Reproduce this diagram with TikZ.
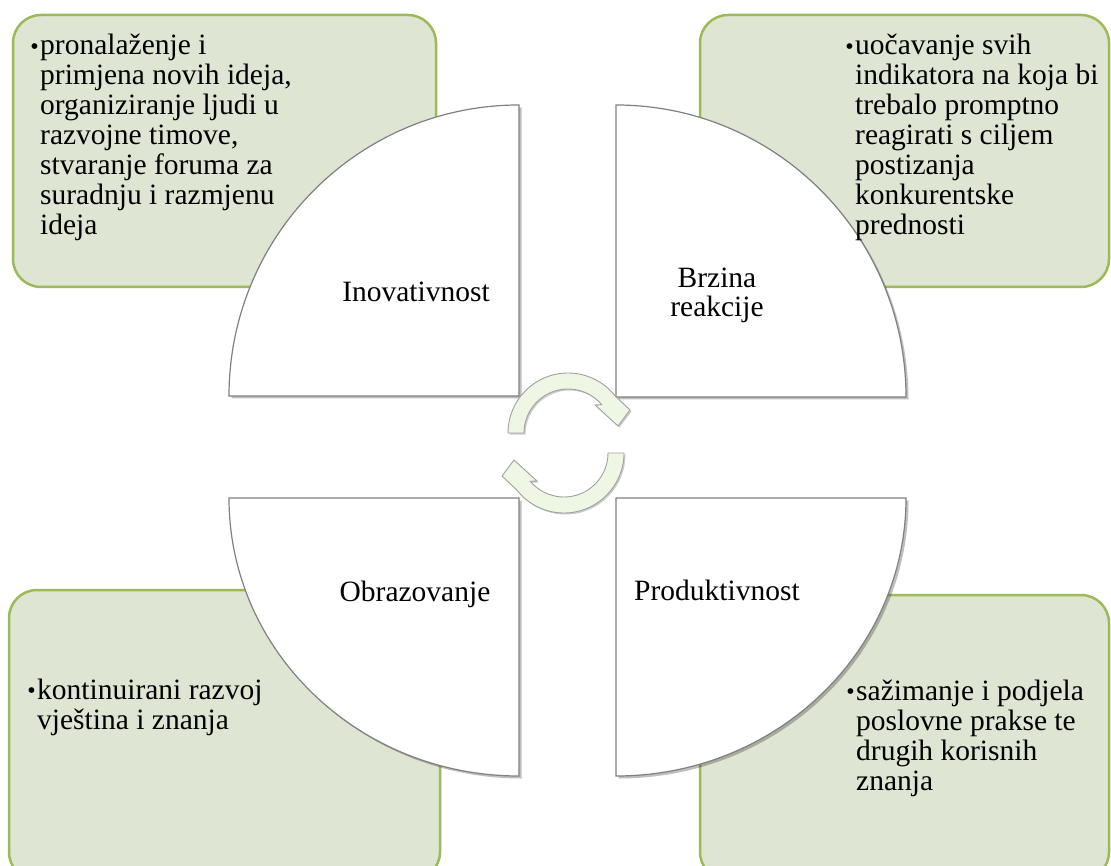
\documentclass[tikz,border=0pt]{standalone}
\usepackage{fontspec}
\setmainfont{Liberation Serif}
\usetikzlibrary{shadows}
\definecolor{boxfill}{RGB}{222,229,211}
\definecolor{boxline}{RGB}{155,187,89}
\definecolor{quadline}{RGB}{128,128,128}
\definecolor{arrowfill}{RGB}{238,247,228}
\definecolor{arrowline}{RGB}{160,160,160}
\newcommand{\bul}{\llap{\raisebox{0.5pt}{\fontsize{24}{24}\selectfont\textbullet}\hspace{1.5pt}}}
\begin{document}
\begin{tikzpicture}[x=1pt,y=-1pt,
  greenbox/.style={fill=boxfill, draw=boxline, line width=2.5pt, rounded corners=28pt},
  quadshape/.style={fill=white, draw=quadline, line width=1.2pt,
    drop shadow={shadow xshift=2.5pt, shadow yshift=-2.5pt, opacity=0.25, fill=black}},
  cyclearrow/.style={fill=arrowfill, draw=arrowline, line width=0.9pt,
    drop shadow={shadow xshift=1.5pt, shadow yshift=-1.5pt, opacity=0.2, fill=black}},
  boxtext/.style={anchor=base west, align=left, inner sep=0pt, font=\fontsize{29.5}{30}\selectfont},
  quadlabel/.style={anchor=base, align=center, inner sep=0pt, font=\fontsize{29.5}{29}\selectfont}]
\useasboundingbox (0,0) rectangle (1111,866);

% green boxes
\path[greenbox] (13,15) rectangle (436,287);
\path[greenbox] (700,15) rectangle (1109,287);
\path[greenbox] (9,590) rectangle (440,880);
\path[greenbox] (700,595) rectangle (1109,880);

% quarter circles
\path[quadshape] (519,396) -- (519,105) arc[start angle=270, end angle=180, x radius=290, y radius=291] -- cycle;
\path[quadshape] (616,397) -- (616,105) arc[start angle=270, end angle=360, x radius=290, y radius=292] -- cycle;
\path[quadshape] (519,498) -- (229,498) arc[start angle=180, end angle=90, x radius=290, y radius=278] -- cycle;
\path[quadshape] (616,498) -- (906,498) arc[start angle=0, end angle=90, x radius=290, y radius=278] -- cycle;

% circular arrows
\begin{scope}[shift={(568,433)}]
  \coordinate (c1) at (0,0);
  \path[cyclearrow] (180:60) arc[start angle=180, end angle=322, radius=60]
    -- (62,-23) -- (50,-7) -- (27,-28) -- (320:44)
    arc[start angle=320, end angle=180, radius=44] -- cycle;
\end{scope}
\begin{scope}[shift={(564,453)}, rotate=180]
  \coordinate (c2) at (0,0);
  \path[cyclearrow] (180:60) arc[start angle=180, end angle=322, radius=60]
    -- (62,-23) -- (50,-7) -- (27,-28) -- (320:44)
    arc[start angle=320, end angle=180, radius=44] -- cycle;
\end{scope}

% quarter labels (base = last line)
\node[quadlabel] (inov) at (416,302) {Inovativnost};
\node[quadlabel] (brz) at (717,317) {Brzina\\reakcije};
\node[quadlabel] (obr) at (415,601) {Obrazovanje};
\node[quadlabel] (prod) at (717,600) {Produktivnost};

% box texts (base = last line)
\node[boxtext] (tl) at (40,235) {\bul pronalaženje i\\primjena novih ideja,\\organiziranje ljudi u\\razvojne timove,\\stvaranje foruma za\\suradnju i razmjenu\\ideja};
\node[boxtext] (tr) at (855,235) {\bul uočavanje svih\\indikatora na koja bi\\trebalo promptno\\reagirati s ciljem\\postizanja\\konkurentske\\prednosti};
\node[boxtext] (bl) at (37,729) {\bul kontinuirani razvoj\\vještina i znanja};
\node[boxtext] (br) at (856,790) {\bul sažimanje i podjela\\poslovne prakse te\\drugih korisnih\\znanja};
\end{tikzpicture}
\end{document}
